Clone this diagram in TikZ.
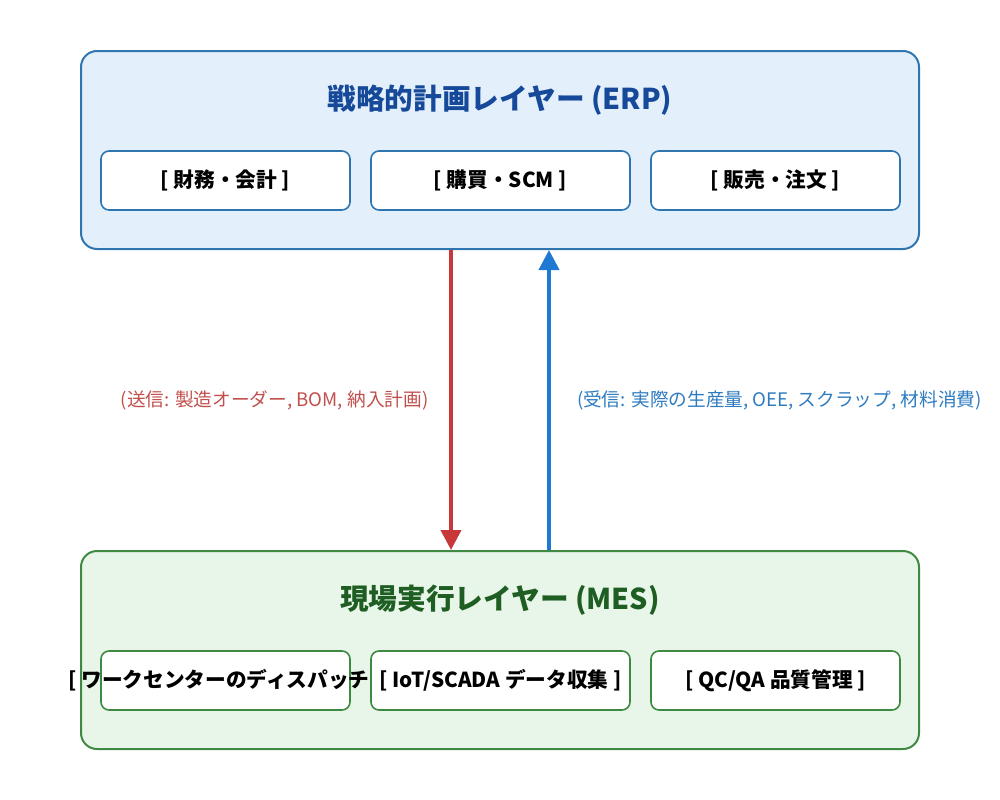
\documentclass[tikz,border=0pt]{standalone}
\usepackage{fontspec}
\setmainfont{Noto Sans CJK JP}
\usepackage{tikz}
\usetikzlibrary{arrows.meta,positioning}
\definecolor{ErpFill}{HTML}{E3F0FB}
\definecolor{ErpLine}{HTML}{2F75B0}
\definecolor{ErpText}{HTML}{17499A}
\definecolor{MesFill}{HTML}{E8F5E9}
\definecolor{MesLine}{HTML}{3F8A42}
\definecolor{MesText}{HTML}{1E5E22}
\definecolor{Send}{HTML}{C8383A}
\definecolor{SendText}{HTML}{C0504D}
\definecolor{Recv}{HTML}{1F78D1}
\definecolor{RecvText}{HTML}{2E7BC0}
\tikzset{
  layer/.style={rounded corners=12pt,line width=1.5pt,minimum width=628.5pt,minimum height=148.5pt,inner sep=0pt},
  layererp/.style={layer,draw=ErpLine,fill=ErpFill},
  layermes/.style={layer,draw=MesLine,fill=MesFill},
  layertitle/.style={font=\fontsize{21.5}{25}\selectfont\bfseries,inner sep=0pt},
  module/.style={rounded corners=6pt,line width=1.2pt,fill=white,minimum height=44.25pt,minimum width=186.75pt,inner sep=0pt,font=\fontsize{15.5}{18}\selectfont\bfseries},
  moderp/.style={module,draw=ErpLine},
  modmes/.style={module,draw=MesLine},
  flow/.style={-{Triangle[length=15pt,width=15pt]},line width=3pt},
  flownote/.style={font=\fontsize{14}{16}\selectfont,inner sep=0pt}
}

\begin{document}
\begin{tikzpicture}[x=0.75pt,y=-0.75pt]
  \useasboundingbox (0,0) rectangle (1000,800);
  % ERP layer
  \node[layererp] (erp) at (500,150) {};
  \node[layertitle,text=ErpText] (erptitle) at (500,100) {戦略的計画レイヤー (ERP)};
  \node[moderp] (fin) at (225.5,180.5) {\makebox[0pt]{[ 財務・会計 ]}};
  \node[moderp,minimum width=194.25pt] (scm) at (500.5,180.5) {\makebox[0pt]{[ 購買・SCM ]}};
  \node[moderp] (sales) at (775.5,180.5) {\makebox[0pt]{[ 販売・注文 ]}};
  % MES layer
  \node[layermes] (mes) at (500,650) {};
  \node[layertitle,text=MesText] (mestitle) at (500,600) {現場実行レイヤー (MES)};
  \node[modmes] (disp) at (225.5,680.5) {\makebox[0pt]{[ ワークセンターのディスパッチ ]}};
  \node[modmes,minimum width=194.25pt] (iot) at (500.5,680.5) {\makebox[0pt]{[ IoT/SCADA データ収集 ]}};
  \node[modmes] (qc) at (775.5,680.5) {\makebox[0pt]{[ QC/QA 品質管理 ]}};
  % flows
  \draw[flow,Send] ([xshift=-36.75pt]erp.south) -- ([xshift=-36.75pt]mes.north)
    node[midway,left=15.5pt,flownote,text=SendText] {(送信: 製造オーダー, BOM, 納入計画)};
  \draw[flow,Recv] ([xshift=36.75pt]mes.north) -- ([xshift=36.75pt]erp.south)
    node[midway,right=19.5pt,flownote,text=RecvText] {(受信: 実際の生産量, OEE, スクラップ, 材料消費)};
\end{tikzpicture}
\end{document}
